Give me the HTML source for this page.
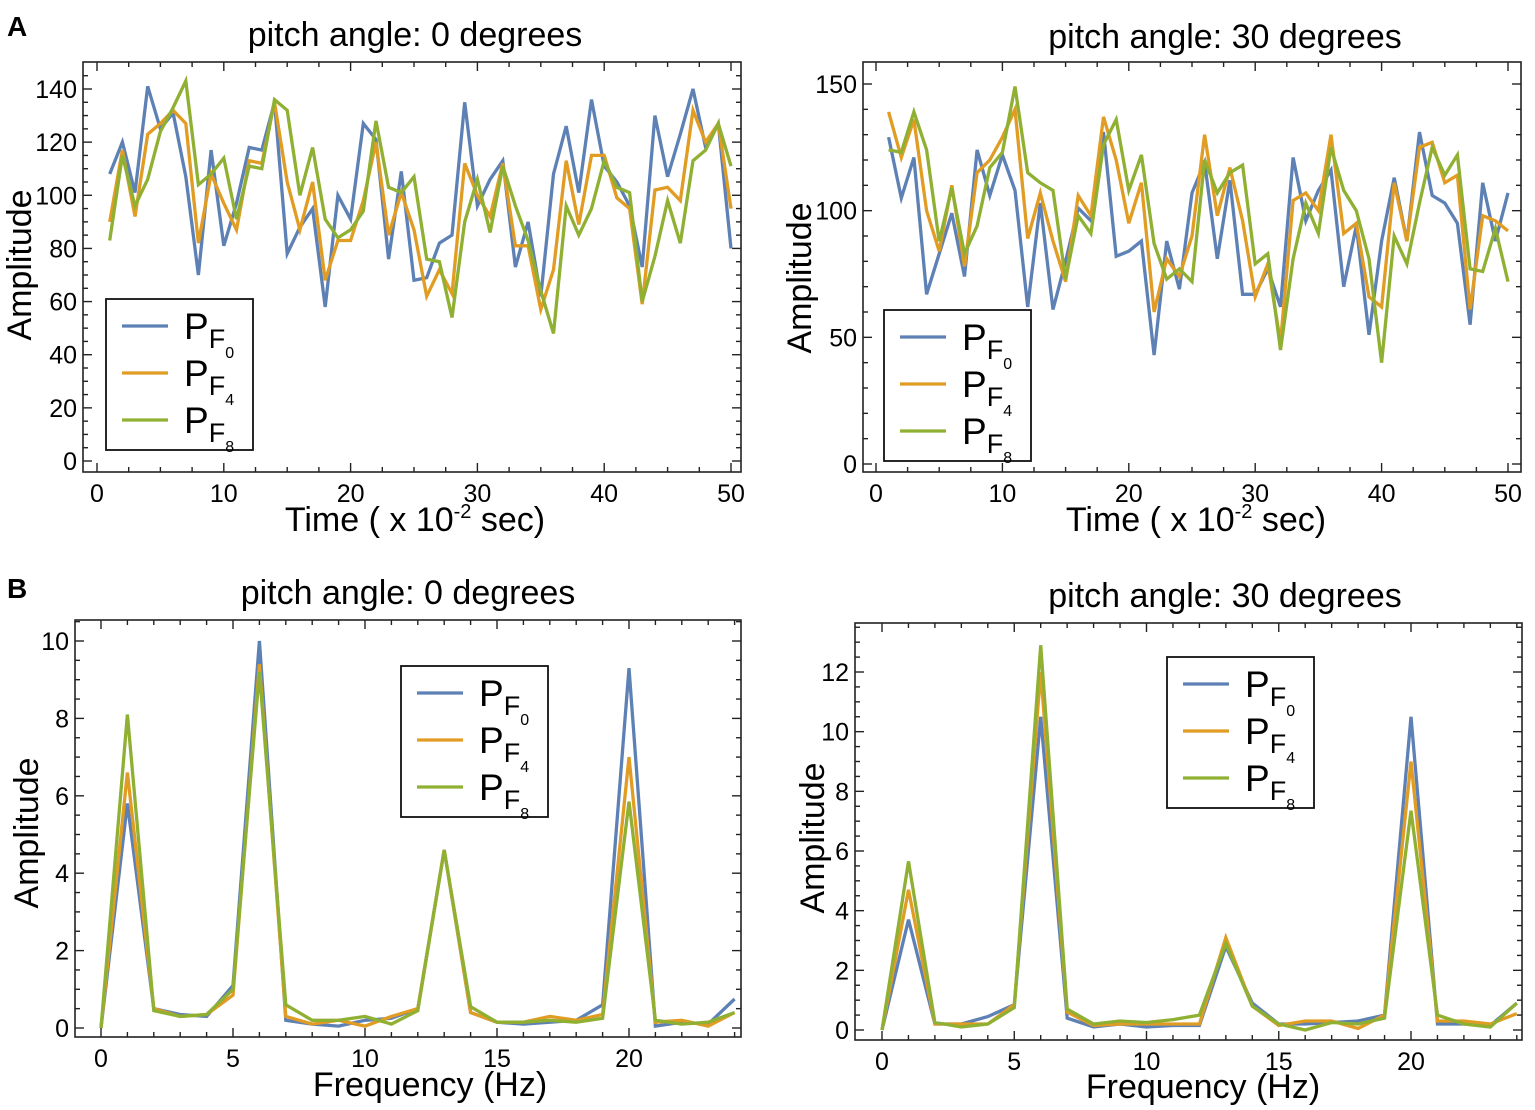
<!DOCTYPE html>
<html><head><meta charset="utf-8"><style>
html,body{margin:0;padding:0;background:#fff;}
svg{display:block;font-family:"Liberation Sans",sans-serif;}
</style></head><body>
<svg id="fig" width="1535" height="1110" viewBox="0 0 1535 1110" xmlns="http://www.w3.org/2000/svg">
<text x="7" y="36" font-size="28" font-weight="bold">A</text>
<text x="7" y="598" font-size="28" font-weight="bold">B</text>
</svg>
<script>
const timeT = Array.from({length:50},(_,i)=>i+1);
const tlF0=[108,120,101,141,125,131,107,70,117,81,97,118,117,135,78,88,95,58,100,91,127,121,76,109,68,69,82,85,135,96,106,113,73,90,62,108,126,101,136,111,105,96,73,130,107,123,140,118,127,80];
const tlF4=[90,117,92,123,127,132,127,82,108,97,87,113,112,135,105,87,105,68,83,83,98,120,85,101,87,62,72,63,112,100,92,112,81,81,57,72,113,89,115,115,99,95,59,102,103,98,132,120,127,95];
const tlF8=[83,115,96,106,124,133,143,104,108,114,91,111,110,136,132,100,118,91,84,87,94,128,103,101,107,76,75,54,90,106,86,111,96,83,64,48,96,85,95,113,103,101,60,77,98,82,113,117,127,111];
const trF0=[129,105,121,67,83,99,74,124,106,122,108,62,103,61,80,101,96,131,82,84,88,43,88,69,107,119,81,112,67,67,77,62,121,96,108,116,70,94,51,88,113,88,131,106,103,95,55,111,88,107];
const trF4=[139,121,136,100,84,110,78,115,120,129,140,89,107,88,72,106,98,137,120,95,111,60,81,74,90,130,98,117,96,66,79,48,104,107,100,130,91,95,66,62,111,88,125,127,111,114,61,98,96,92];
const trF8=[124,123,139,124,88,109,83,94,117,123,149,115,111,108,73,98,91,126,136,108,122,87,73,77,72,120,107,115,118,79,83,45,81,103,91,125,108,100,81,40,90,79,103,125,114,122,77,76,93,72];
const freqF = Array.from({length:25},(_,i)=>i);
const blF0=[0,5.8,0.5,0.35,0.3,1.1,10,0.2,0.1,0.05,0.2,0.25,0.5,4.6,0.4,0.15,0.1,0.15,0.2,0.6,9.3,0.05,0.15,0.1,0.75];
const blF4=[0,6.6,0.5,0.3,0.35,0.85,9.4,0.3,0.1,0.2,0.05,0.3,0.5,4.6,0.4,0.15,0.15,0.3,0.2,0.35,7.0,0.15,0.2,0.05,0.4];
const blF8=[0,8.1,0.45,0.3,0.35,1.0,9.2,0.6,0.2,0.2,0.3,0.1,0.45,4.6,0.55,0.15,0.15,0.2,0.15,0.25,5.85,0.2,0.1,0.15,0.4];
const brF0=[0,3.7,0.2,0.2,0.45,0.85,10.5,0.4,0.1,0.2,0.1,0.15,0.15,2.8,0.9,0.2,0.2,0.25,0.3,0.5,10.5,0.2,0.2,0.15,0.9];
const brF4=[0,4.7,0.2,0.2,0.2,0.85,12.0,0.6,0.15,0.2,0.2,0.2,0.2,3.1,0.8,0.15,0.3,0.3,0.05,0.5,9.0,0.3,0.3,0.2,0.55];
const brF8=[0,5.65,0.25,0.1,0.2,0.75,12.9,0.7,0.2,0.3,0.25,0.35,0.5,2.9,0.8,0.2,0.0,0.25,0.2,0.4,7.35,0.5,0.2,0.1,0.9];
const timeTicks=[0,10,20,30,40,50];
const freqTicks=[0,5,10,15,20];
const tlYTicks=[0,20,40,60,80,100,120,140];
const trYTicks=[0,50,100,150];
const blYTicks=[0,2,4,6,8,10];
const brYTicks=[0,2,4,6,8,10,12];

const NS='http://www.w3.org/2000/svg';
const svg=document.getElementById('fig');
const COLORS=['#5e81b5','#e19c24','#8fb032'];
function mk(tag,attrs,parent){const e=document.createElementNS(NS,tag);for(const k in attrs)e.setAttribute(k,attrs[k]);(parent||svg).appendChild(e);return e;}

function panel(c){
  const g=mk('g',{});
  
  
  const xs=v=>c.x0px+(v-c.xmin)*(c.x1px-c.x0px)/(c.xmax-c.xmin);
  const ys=v=>c.y0px-(v-c.ymin)*(c.y0px-c.y1px)/(c.ymax-c.ymin);
  const fr=mk('rect',{x:c.fx,y:c.fy,width:c.fw,height:c.fh,fill:'none',stroke:'#222','stroke-width':1.6},g);
  
  
  for(let v=c.xlo;v<=c.xhi+1e-9;v+=c.xminor){
    const X=xs(v); if(X<c.fx+1||X>c.fx+c.fw-1) continue;
    const major=Math.abs(v/c.xmajor-Math.round(v/c.xmajor))<1e-6;
    const L=major?9:5;
    mk('line',{x1:X,y1:c.fy+c.fh,x2:X,y2:c.fy+c.fh-L,stroke:'#222','stroke-width':1.4},g);
    mk('line',{x1:X,y1:c.fy,x2:X,y2:c.fy+L,stroke:'#222','stroke-width':1.4},g);
  }
  c.xt.forEach(v=>{const t=mk('text',{x:xs(v),y:c.fy+c.fh+30,'font-size':25,'text-anchor':'middle'},g);t.textContent=v;
    });
  for(let v=c.ylo;v<=c.yhi+1e-9;v+=c.yminor){
    const Y=ys(v); if(Y<c.fy+1||Y>c.fy+c.fh-1) continue;
    const major=Math.abs(v/c.ymajor-Math.round(v/c.ymajor))<1e-6;
    const L=major?9:5;
    mk('line',{x1:c.fx,y1:Y,x2:c.fx+L,y2:Y,stroke:'#222','stroke-width':1.4},g);
    mk('line',{x1:c.fx+c.fw,y1:Y,x2:c.fx+c.fw-L,y2:Y,stroke:'#222','stroke-width':1.4},g);
  }
  c.yt.forEach(v=>{const t=mk('text',{x:c.fx-6,y:ys(v)+9,'font-size':25,'text-anchor':'end'},g);t.textContent=v;
    });
  const names=['series-pf0','series-pf4','series-pf8'];
  c.series.forEach((s,i)=>{
    const d=s.map((v,j)=>(j?'L':'M')+xs(c.xv[j]).toFixed(1)+','+ys(v).toFixed(1)).join('');
    const p=mk('path',{d:d,fill:'none',stroke:COLORS[i],'stroke-width':3.3,'stroke-linejoin':'miter'},g);
    
    
  });
  const ti=mk('text',{x:c.tx,y:c.ty,'font-size':34,'text-anchor':'middle'},g);ti.textContent=c.title;
  
  const yl=mk('text',{x:0,y:0,'font-size':34,'text-anchor':'middle',transform:`translate(${c.ylx},${c.yly}) rotate(-90)`},g);yl.textContent='Amplitude';
  
  const xl=mk('text',{x:c.xlx,y:c.xly,'font-size':34,'text-anchor':'middle'},g);
  
  if(c.time){xl.innerHTML='Time ( x 10<tspan dy="-13" font-size="20">-2</tspan><tspan dy="13"> sec)</tspan>';}
  else xl.textContent='Frequency (Hz)';
  const lg=mk('g',{},g);
  
  
  mk('rect',{x:c.lx,y:c.ly,width:147,height:151,fill:'#fff',stroke:'#111','stroke-width':1.8},lg);
  ['0','4','8'].forEach((s,i)=>{
    const yy=c.ly+27+i*47;
    const e=mk('g',{},lg);
    
    
    mk('line',{x1:c.lx+16,y1:yy,x2:c.lx+62,y2:yy,stroke:COLORS[i],'stroke-width':3.3},e);
    const t=mk('text',{x:c.lx+78,y:yy+13,'font-size':37},e);
    t.innerHTML='P<tspan dy="9" font-size="27">F</tspan><tspan dy="10" font-size="16">'+s+'</tspan>';
  });
}
panel({id:'chart-a-0deg',fx:83,fy:62,fw:658,fh:410,x0px:97,x1px:731,xmin:0,xmax:50,y0px:461,y1px:89,ymin:0,ymax:140,
  xlo:0,xhi:50,xminor:2.5,xmajor:10,ylo:0,yhi:145,yminor:5,ymajor:20,xt:timeTicks,yt:tlYTicks,xv:timeT,series:[tlF0,tlF4,tlF8],
  title:'pitch angle: 0 degrees',tx:415,ty:46,ylx:31,yly:265,xlx:415,xly:531,time:true,lx:106,ly:299});
panel({id:'chart-a-30deg',fx:863,fy:62,fw:658,fh:410,x0px:876,x1px:1508,xmin:0,xmax:50,y0px:464,y1px:84,ymin:0,ymax:150,
  xlo:0,xhi:50,xminor:2.5,xmajor:10,ylo:0,yhi:150,yminor:10,ymajor:50,xt:timeTicks,yt:trYTicks,xv:timeT,series:[trF0,trF4,trF8],
  title:'pitch angle: 30 degrees',tx:1225,ty:48,ylx:811,yly:278,xlx:1196,xly:531,time:true,lx:884,ly:310});
panel({id:'chart-b-0deg',fx:75,fy:620,fw:666,fh:417,x0px:101,x1px:629,xmin:0,xmax:20,y0px:1028,y1px:641,ymin:0,ymax:10,
  xlo:0,xhi:25,xminor:1,xmajor:5,ylo:0,yhi:10.5,yminor:0.5,ymajor:2,xt:freqTicks,yt:blYTicks,xv:freqF,series:[blF0,blF4,blF8],
  title:'pitch angle: 0 degrees',tx:408,ty:604,ylx:38,yly:833,xlx:430,xly:1096,time:false,lx:401,ly:666});
panel({id:'chart-b-30deg',fx:855,fy:623,fw:667,fh:417,x0px:882,x1px:1411,xmin:0,xmax:20,y0px:1030,y1px:672,ymin:0,ymax:12,
  xlo:0,xhi:25,xminor:1,xmajor:5,ylo:0,yhi:13.5,yminor:0.5,ymajor:2,xt:freqTicks,yt:brYTicks,xv:freqF,series:[brF0,brF4,brF8],
  title:'pitch angle: 30 degrees',tx:1225,ty:607,ylx:824,yly:838,xlx:1203,xly:1098,time:false,lx:1167,ly:657});
</script>
</body></html>
